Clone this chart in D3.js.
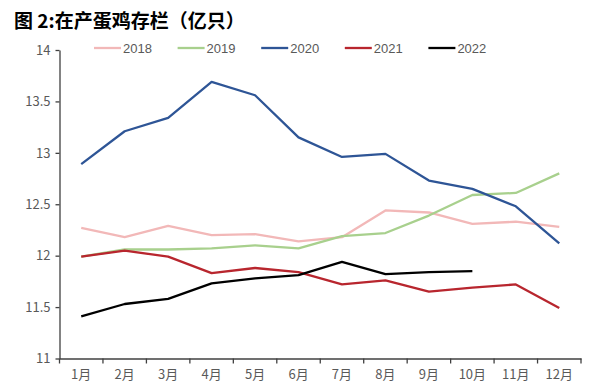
<!DOCTYPE html>
<html><head><meta charset="utf-8">
<script src="https://cdn.jsdelivr.net/npm/d3@7"></script>
<style>body{margin:0;background:#fff}svg{display:block}</style>
</head><body><svg id="c" width="596" height="392"></svg>
<script>
const months = ["1月","2月","3月","4月","5月","6月","7月","8月","9月","10月","11月","12月"];
const yTicks = [11, 11.5, 12, 12.5, 13, 13.5, 14];
const s2018 = [12.27,12.18,12.29,12.20,12.21,12.14,12.18,12.44,12.42,12.31,12.33,12.28];
const s2019 = [11.99,12.06,12.06,12.07,12.10,12.07,12.19,12.22,12.39,12.59,12.61,12.80];
const s2020 = [12.89,13.21,13.34,13.69,13.56,13.15,12.96,12.99,12.73,12.65,12.48,12.12];
const s2021 = [11.99,12.05,11.99,11.83,11.88,11.84,11.72,11.76,11.65,11.69,11.72,11.49];
const s2022 = [11.41,11.53,11.58,11.73,11.78,11.81,11.94,11.82,11.84,11.85];
const seriesNames = ["2018","2019","2020","2021","2022"];
const seriesData = [s2018, s2019, s2020, s2021, s2022];
const colors = ["#F2B8B8","#A8D08D","#2E5596","#B8262E","#000000"];

const svg = d3.select("#c");
const font = "'Liberation Sans','DejaVu Sans',sans-serif";
const L = 59.5, R = 581, T = 50, B = 358.5;

svg.append("text").attr("x", 14).attr("y", 28)
  .attr("font-family", "'Noto Sans CJK SC',sans-serif").attr("font-weight", "bold")
  .attr("font-size", 19).attr("fill", "#000").text("图 2:在产蛋鸡存栏（亿只）");

const x = d3.scaleBand().domain(months).range([L, R]);
const y = d3.scaleLinear().domain([11, 14]).range([B, T]);

const yAxis = svg.append("g").attr("transform", `translate(${L},0)`)
  .call(d3.axisLeft(y).tickValues(yTicks).tickFormat(d => d).tickSize(4).tickSizeOuter(0));
const xAxis = svg.append("g").attr("transform", `translate(0,${B})`)
  .call(d3.axisBottom(x).tickSize(0).tickSizeOuter(0));
[yAxis, xAxis].forEach(g => {
  g.select(".domain").attr("stroke", "#404040").attr("stroke-width", 1.3);
  g.selectAll("line").attr("stroke", "#404040").attr("stroke-width", 1.3);
  g.selectAll("text").attr("fill", "#595959").attr("font-size", 13).attr("font-family", "'Noto Sans CJK SC'," + font);
});
yAxis.selectAll("text").attr("x", -9);
xAxis.selectAll("text").attr("y", 11);
// band boundary ticks on x axis
xAxis.selectAll(".btick").data(months.concat(["end"])).enter().append("line")
  .attr("x1", (d, i) => L + i * x.step()).attr("x2", (d, i) => L + i * x.step())
  .attr("y1", 0).attr("y2", 5).attr("stroke", "#404040").attr("stroke-width", 1.3);

const line = d3.line().x((d, i) => x(months[i]) + x.bandwidth() / 2).y(d => y(d));
seriesData.forEach((s, k) => {
  svg.append("path").datum(s).attr("d", line).attr("fill", "none")
    .attr("stroke", colors[k]).attr("stroke-width", 2.3).attr("stroke-linejoin", "round");
});

const leg = svg.append("g");
seriesNames.forEach((n, k) => {
  const lx = 94 + k * 83.6;
  leg.append("line").attr("x1", lx).attr("x2", lx + 27).attr("y1", 48).attr("y2", 48)
    .attr("stroke", colors[k]).attr("stroke-width", 2.3);
  leg.append("text").attr("x", lx + 29).attr("y", 52.5).attr("font-size", 13)
    .attr("font-family", font).attr("fill", "#595959").text(n);
});
</script></body></html>
